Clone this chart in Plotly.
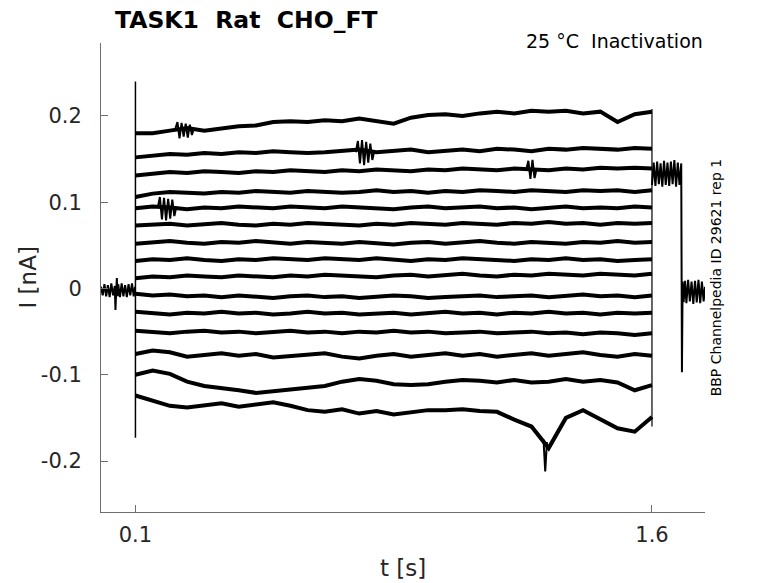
import plotly.graph_objects as go

t_step = [0.10, 0.15, 0.20, 0.25, 0.30, 0.35, 0.40, 0.45, 0.50, 0.55,
          0.60, 0.65, 0.70, 0.75, 0.80, 0.85, 0.90, 0.95, 1.00, 1.05,
          1.10, 1.15, 1.20, 1.25, 1.30, 1.35, 1.40, 1.45, 1.50, 1.55, 1.60]

# Ströme der 15 Sweeps (nA), von oben nach unten
sweep1 = [0.180, 0.180, 0.183, 0.186, 0.183, 0.186, 0.188, 0.189, 0.193, 0.194, 0.193, 0.195, 0.194, 0.197, 0.194, 0.191,
          0.198, 0.201, 0.202, 0.200, 0.203, 0.205, 0.203, 0.206, 0.205, 0.206, 0.203, 0.205, 0.193, 0.202, 0.205]
sweep2 = [0.152, 0.154, 0.156, 0.155, 0.157, 0.156, 0.158, 0.157, 0.159, 0.158, 0.157, 0.158, 0.159, 0.161, 0.158, 0.159,
          0.161, 0.158, 0.159, 0.161, 0.159, 0.162, 0.161, 0.159, 0.162, 0.161, 0.163, 0.162, 0.161, 0.163, 0.162]
sweep3 = [0.131, 0.133, 0.135, 0.134, 0.136, 0.135, 0.134, 0.136, 0.135, 0.137, 0.136, 0.135, 0.137, 0.136, 0.138, 0.137,
          0.136, 0.138, 0.137, 0.139, 0.138, 0.137, 0.139, 0.138, 0.137, 0.139, 0.138, 0.140, 0.139, 0.140, 0.139]
sweep4 = [0.106, 0.110, 0.112, 0.111, 0.110, 0.112, 0.111, 0.113, 0.112, 0.111, 0.113, 0.112, 0.111, 0.112, 0.114, 0.112,
          0.113, 0.111, 0.113, 0.112, 0.114, 0.113, 0.112, 0.114, 0.113, 0.112, 0.114, 0.113, 0.114, 0.112, 0.114]
sweep5 = [0.093, 0.095, 0.094, 0.092, 0.094, 0.093, 0.095, 0.094, 0.093, 0.095, 0.094, 0.093, 0.095, 0.094, 0.093, 0.092,
          0.094, 0.095, 0.093, 0.094, 0.095, 0.093, 0.094, 0.092, 0.094, 0.095, 0.093, 0.094, 0.093, 0.095, 0.094]
sweep6 = [0.073, 0.074, 0.075, 0.073, 0.074, 0.076, 0.074, 0.073, 0.075, 0.074, 0.076, 0.075, 0.074, 0.073, 0.075, 0.074,
          0.076, 0.075, 0.074, 0.076, 0.075, 0.074, 0.076, 0.075, 0.077, 0.075, 0.076, 0.074, 0.076, 0.075, 0.076]
sweep7 = [0.052, 0.053, 0.055, 0.053, 0.052, 0.054, 0.053, 0.055, 0.053, 0.052, 0.054, 0.053, 0.052, 0.054, 0.053, 0.051,
          0.053, 0.054, 0.052, 0.053, 0.055, 0.053, 0.052, 0.054, 0.053, 0.052, 0.054, 0.053, 0.055, 0.053, 0.054]
sweep8 = [0.032, 0.034, 0.033, 0.035, 0.033, 0.032, 0.034, 0.033, 0.035, 0.034, 0.033, 0.035, 0.034, 0.033, 0.035, 0.034,
          0.032, 0.034, 0.033, 0.035, 0.034, 0.033, 0.032, 0.034, 0.033, 0.035, 0.033, 0.034, 0.032, 0.033, 0.034]
sweep9 = [0.012, 0.014, 0.013, 0.015, 0.014, 0.013, 0.015, 0.014, 0.013, 0.015, 0.014, 0.016, 0.015, 0.014, 0.013, 0.015,
          0.016, 0.014, 0.015, 0.017, 0.015, 0.014, 0.016, 0.015, 0.017, 0.016, 0.015, 0.017, 0.016, 0.015, 0.017]
sweep10 = [-0.006, -0.008, -0.007, -0.009, -0.008, -0.010, -0.008, -0.009, -0.011, -0.009, -0.008, -0.010, -0.009, -0.011,
           -0.010, -0.008, -0.009, -0.011, -0.010, -0.009, -0.008, -0.010, -0.009, -0.008, -0.010, -0.009, -0.007, -0.009,
           -0.008, -0.010, -0.008]
sweep11 = [-0.027, -0.028, -0.030, -0.028, -0.029, -0.027, -0.029, -0.028, -0.030, -0.029, -0.027, -0.029, -0.028, -0.030,
           -0.029, -0.028, -0.030, -0.029, -0.027, -0.029, -0.028, -0.030, -0.028, -0.029, -0.027, -0.029, -0.028, -0.030,
           -0.028, -0.029, -0.028]
sweep12 = [-0.049, -0.050, -0.052, -0.050, -0.049, -0.051, -0.050, -0.052, -0.051, -0.049, -0.051, -0.050, -0.052, -0.050,
           -0.051, -0.049, -0.051, -0.050, -0.052, -0.051, -0.050, -0.052, -0.051, -0.050, -0.052, -0.051, -0.053, -0.051,
           -0.052, -0.054, -0.052]
sweep13 = [-0.076, -0.072, -0.074, -0.079, -0.077, -0.075, -0.078, -0.076, -0.080, -0.078, -0.077, -0.075, -0.079, -0.081,
           -0.078, -0.076, -0.079, -0.077, -0.075, -0.078, -0.076, -0.079, -0.077, -0.075, -0.078, -0.076, -0.074, -0.077,
           -0.079, -0.076, -0.078]
sweep14 = [-0.100, -0.095, -0.099, -0.108, -0.113, -0.115, -0.118, -0.121, -0.119, -0.117, -0.115, -0.113, -0.108, -0.105,
           -0.107, -0.111, -0.112, -0.111, -0.108, -0.106, -0.107, -0.109, -0.106, -0.109, -0.108, -0.105, -0.108, -0.106,
           -0.109, -0.118, -0.112]
sweep15 = [-0.124, -0.130, -0.136, -0.138, -0.135, -0.133, -0.137, -0.134, -0.132, -0.136, -0.141, -0.143, -0.140, -0.145,
           -0.142, -0.146, -0.144, -0.141, -0.141, -0.140, -0.142, -0.143, -0.152, -0.160, -0.185, -0.150, -0.141, -0.152,
           -0.162, -0.166, -0.149]
sweeps = [sweep1, sweep2, sweep3, sweep4, sweep5, sweep6, sweep7, sweep8,
          sweep9, sweep10, sweep11, sweep12, sweep13, sweep14, sweep15]

# Haltepotential vor dem Puls
t_pre = [0.000, 0.005, 0.010, 0.015, 0.020, 0.025, 0.030, 0.035, 0.040, 0.042, 0.044, 0.046, 0.048,
         0.050, 0.055, 0.060, 0.065, 0.070, 0.075, 0.080, 0.085, 0.090, 0.095, 0.099]
i_pre = [0.002, -0.008, 0.005, -0.009, 0.004, -0.010, 0.006, -0.008, 0.003, -0.025, -0.004, 0.012, -0.009,
         0.005, -0.010, 0.006, -0.009, 0.004, -0.010, 0.005, -0.008, 0.006, -0.009, 0.002]

# kapazitive Transienten beim Ein- und Ausschalten
t_on = [0.1, 0.1]
i_on = [0.240, -0.173]
t_off = [1.6, 1.6]
i_off = [0.208, -0.160]

# Nachpuls und Rückkehr zum Haltepotential
t_post = [1.600, 1.605, 1.610, 1.615, 1.620, 1.625, 1.630, 1.635, 1.640, 1.645, 1.650, 1.655, 1.660,
          1.665, 1.670, 1.675, 1.680, 1.685, 1.687, 1.689, 1.692, 1.696, 1.700, 1.705, 1.710, 1.715,
          1.720, 1.725, 1.730, 1.735, 1.740, 1.745, 1.750, 1.754]
i_post = [0.120, 0.146, 0.119, 0.147, 0.121, 0.145, 0.118, 0.148, 0.120, 0.146, 0.119, 0.147, 0.121,
          0.149, 0.118, 0.146, 0.120, 0.145, -0.097, 0.008, -0.016, 0.009, -0.017, 0.010, -0.015, 0.008,
          -0.018, 0.009, -0.016, 0.010, -0.017, 0.008, -0.015, 0.002]

# Rauschausbrüche und Einzelspitzen
burst1_t = [0.215, 0.222, 0.228, 0.234, 0.240, 0.246, 0.252, 0.258, 0.264, 0.270]
burst1_i = [0.184, 0.193, 0.174, 0.192, 0.176, 0.191, 0.175, 0.190, 0.178, 0.186]
burst2_t = [0.740, 0.746, 0.752, 0.758, 0.764, 0.770, 0.776, 0.782, 0.788, 0.794]
burst2_i = [0.158, 0.171, 0.145, 0.172, 0.143, 0.170, 0.146, 0.168, 0.149, 0.160]
burst3_t = [0.165, 0.171, 0.177, 0.183, 0.189, 0.195, 0.201, 0.207, 0.213, 0.219]
burst3_i = [0.094, 0.106, 0.080, 0.105, 0.079, 0.104, 0.081, 0.103, 0.084, 0.095]
burst4_t = [1.235, 1.241, 1.247, 1.253, 1.259, 1.265]
burst4_i = [0.138, 0.148, 0.127, 0.149, 0.128, 0.139]
spike_t = [1.285, 1.290, 1.295]
spike_i = [-0.175, -0.212, -0.178]
bursts = [(burst1_t, burst1_i), (burst2_t, burst2_i), (burst3_t, burst3_i),
          (burst4_t, burst4_i), (spike_t, spike_i)]

txt_col = '#262626'
ax_col = '#6e6e6e'
fig = go.Figure()

fig.add_trace(go.Scatter(x=t_pre, y=i_pre, mode='lines', line=dict(color='black', width=2)))
fig.add_trace(go.Scatter(x=t_on, y=i_on, mode='lines', line=dict(color='black', width=1.5)))
for s in sweeps:
    fig.add_trace(go.Scatter(x=t_step, y=s, mode='lines', line=dict(color='black', width=4)))
for bt, bi in bursts:
    fig.add_trace(go.Scatter(x=bt, y=bi, mode='lines', line=dict(color='black', width=2)))
fig.add_trace(go.Scatter(x=t_off, y=i_off, mode='lines', line=dict(color='black', width=1.2)))
fig.add_trace(go.Scatter(x=t_post, y=i_post, mode='lines', line=dict(color='black', width=2)))

# Seite hat 8px Rand -> Figur entsprechend kleiner
fig.update_layout(
    width=770, height=575,
    margin=dict(l=93, r=73, t=35, b=71),
    paper_bgcolor='white', plot_bgcolor='white',
    showlegend=False,
    font=dict(family='DejaVu Sans', color=txt_col),
)

fig.update_xaxes(range=[0, 1.754], tickvals=[0.1, 1.6], ticktext=['0.1', '1.6'],
                 ticks='inside', ticklen=7, tickcolor=ax_col, automargin=False,
                 showline=True, linecolor=ax_col, linewidth=1, showgrid=False, zeroline=False,
                 tickfont=dict(size=21, color=txt_col), ticklabelstandoff=4)
fig.update_yaxes(range=[-0.2591, 0.2846], tickvals=[-0.2, -0.1, 0, 0.1, 0.2],
                 ticktext=['-0.2', '-0.1', '0', '0.1', '0.2'],
                 ticks='inside', ticklen=7, tickcolor=ax_col, automargin=False,
                 showline=True, linecolor=ax_col, linewidth=1, showgrid=False, zeroline=False,
                 tickfont=dict(size=21, color=txt_col), ticklabelstandoff=14)

# Achsentitel
fig.add_annotation(text='t [s]', xref='paper', yref='paper', x=0.5, y=-0.1194,
                   xanchor='center', yanchor='middle', showarrow=False,
                   font=dict(size=23, color=txt_col))
fig.add_annotation(text='I [nA]', xref='paper', yref='paper', x=-0.1209, y=0.5,
                   xanchor='center', yanchor='middle', textangle=-90, showarrow=False,
                   font=dict(size=23, color=txt_col))

fig.add_annotation(text='<b>TASK1  Rat  CHO_FT</b>', xref='paper', yref='paper',
                   x=0.020, y=1.050, xanchor='left', yanchor='middle', showarrow=False,
                   font=dict(size=23.5, color='black'))
fig.add_annotation(text='25 °C  Inactivation', xref='paper', yref='paper',
                   x=1.0, y=1.004, xanchor='right', yanchor='middle', showarrow=False,
                   font=dict(size=19, color='black'))
fig.add_annotation(text='BBP Channelpedia ID 29621 rep 1', xref='paper', yref='paper',
                   x=1.018, y=0.5, xanchor='center', yanchor='middle', textangle=-90, showarrow=False,
                   font=dict(size=14, color='black'))

fig.write_html("out.html")
